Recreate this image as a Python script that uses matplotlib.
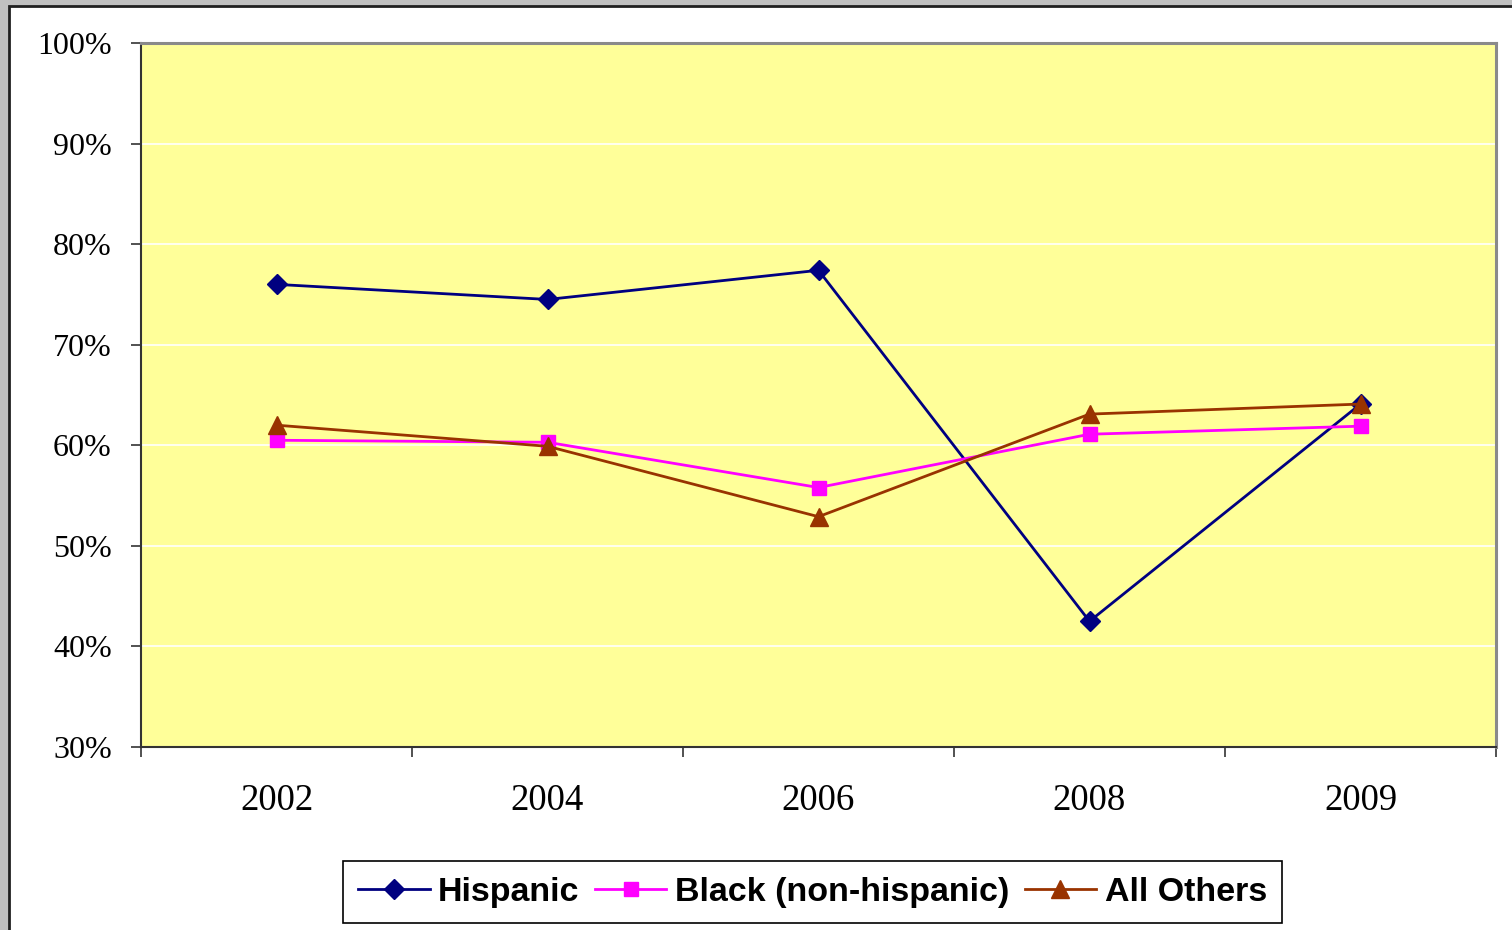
import matplotlib
matplotlib.use("Agg")
import matplotlib.pyplot as plt
from matplotlib.patches import Rectangle
from matplotlib.ticker import FixedLocator, FuncFormatter

# Survey years and percentage series
years = ["2002", "2004", "2006", "2008", "2009"]
hispanic = [76.0, 74.5, 77.4, 42.5, 64.1]
black_non_hispanic = [60.5, 60.3, 55.8, 61.1, 61.9]
all_others = [62.0, 59.9, 52.9, 63.1, 64.1]

series_names = ["Hispanic", "Black (non-hispanic)", "All Others"]
y_ticks = [30, 40, 50, 60, 70, 80, 90, 100]

W, H = 1512, 930
fig = plt.figure(figsize=(W / 100, H / 100), dpi=100)
fig.patch.set_facecolor("#c0c0c0")

# White page with a dark frame line on the top and left
page = Rectangle((9 / W, -0.1), 1.2, (H - 6) / H + 0.1, transform=fig.transFigure,
                 facecolor="white", edgecolor="#202020", linewidth=2, zorder=0)
fig.add_artist(page)

ax = fig.add_axes([141 / W, 1 - 747 / H, (1496 - 141) / W, (747 - 43) / H])
ax.set_facecolor("#ffff99")

x = list(range(len(years)))
ax.plot(x, hispanic, color="#000080", lw=2, marker="D", ms=10.5,
        label=series_names[0], zorder=3)
ax.plot(x, black_non_hispanic, color="#ff00ff", lw=2, marker="s", ms=10,
        label=series_names[1], zorder=3)
ax.plot(x, all_others, color="#993300", lw=2, marker="^", ms=12.5,
        label=series_names[2], zorder=3)

ax.set_xlim(-0.5, len(years) - 0.5)
ax.set_ylim(30, 100)

# Y axis: percent ticks with white gridlines
ax.yaxis.set_major_locator(FixedLocator(y_ticks))
ax.yaxis.set_major_formatter(FuncFormatter(lambda v, p: f"{int(v)}%"))
ax.grid(axis="y", color="white", lw=1.2, zorder=1)
ax.set_axisbelow(True)

serif = ["Liberation Serif", "DejaVu Serif"]
ax.tick_params(axis="y", direction="out", length=7, width=1.2, color="#333333",
               pad=14, labelsize=23)
for lbl in ax.get_yticklabels():
    lbl.set_fontfamily(serif)

# X axis: labels centred on categories, tick marks on category boundaries
ax.set_xticks(x)
ax.set_xticklabels(years, fontfamily=serif, fontsize=26.5)
ax.tick_params(axis="x", which="major", length=0, pad=26)
ax.set_xticks([i - 0.5 for i in range(len(years) + 1)], minor=True)
ax.tick_params(axis="x", which="minor", direction="out", length=7, width=1.2,
               color="#333333")

for side in ("top", "right"):
    ax.spines[side].set_color("#8a8a8a")
    ax.spines[side].set_linewidth(2.2)
for side in ("left", "bottom"):
    ax.spines[side].set_color("#333333")
    ax.spines[side].set_linewidth(1.5)

leg = fig.legend(loc="center", bbox_to_anchor=(812.5 / W, 1 - 892 / H), ncol=3,
                 frameon=True, fancybox=False, edgecolor="black", framealpha=1,
                 prop={"family": "Liberation Sans", "weight": "bold", "size": 24.5},
                 handlelength=2.1, handletextpad=0.25, columnspacing=0.45,
                 borderpad=0.45, borderaxespad=0)
leg.get_frame().set_linewidth(1.2)

fig.savefig("out.png", dpi=100)
